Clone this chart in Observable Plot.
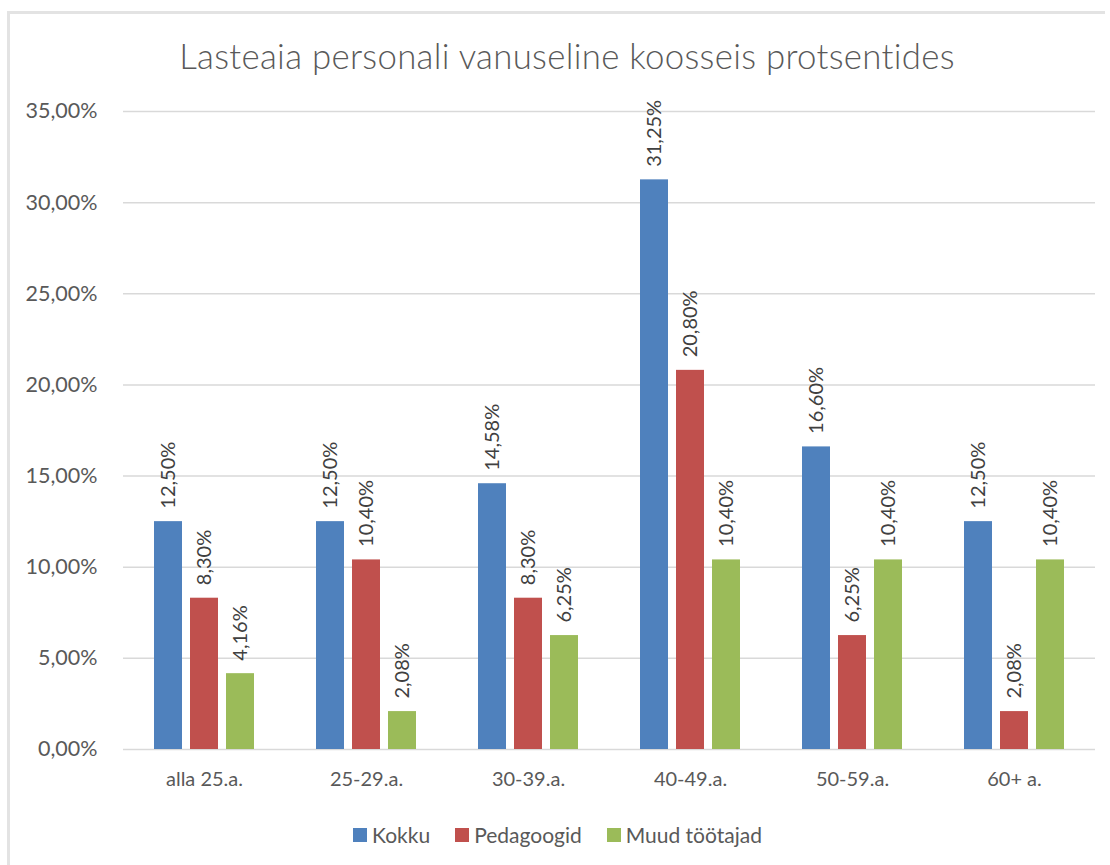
<!DOCTYPE html>
<html>
<head>
<meta charset="utf-8">
<script src="https://cdn.jsdelivr.net/npm/d3@7"></script>
<script src="https://cdn.jsdelivr.net/npm/@observablehq/plot@0.6"></script>
<style>
  html, body { margin: 0; padding: 0; background: #fff; }
  body { width: 1110px; height: 865px; position: relative; overflow: hidden; font-family: Lato, "Open Sans", sans-serif; }
  #frame { position: absolute; left: 7px; top: 11px; width: 1095px; height: 860px; border-top: 3px solid #e3e3e3; border-left: 3px solid #e3e3e3; }
  #title { position: absolute; left: 0; top: 35px; width: 1134px; text-align: center; font-size: 34.8px; font-weight: 300; color: #595959; letter-spacing: 0.3px; }
  #chart { position: absolute; left: 0; top: 0; }
  #legend { position: absolute; left: 0; top: 822px; width: 1140px; display: flex; justify-content: center; }
  #legend .lg-swatches, #legend div { font-family: Lato, sans-serif !important; font-size: 21px !important; color: #595959 !important; justify-content: center; min-height: 0 !important; margin: 0 !important; }
  #legend span { margin-right: 25px !important; }
  #legend svg { margin-right: 5px !important; }
</style>
</head>
<body>
<div id="frame"></div>
<div id="title">Lasteaia personali vanuseline koosseis protsentides</div>
<div id="chart"></div>
<div id="legend"></div>
<script>
const categories = ["alla 25.a.", "25-29.a.", "30-39.a.", "40-49.a.", "50-59.a.", "60+ a."];
const seriesNames = ["Kokku", "Pedagoogid", "Muud töötajad"];
const seriesColors = ["#4F81BD", "#C0504D", "#9BBB59"];
const kokku = [12.50, 12.50, 14.58, 31.25, 16.60, 12.50];
const pedagoogid = [8.30, 10.40, 8.30, 20.80, 6.25, 2.08];
const muud = [4.16, 2.08, 6.25, 10.40, 10.40, 10.40];
const yTicks = [0, 5, 10, 15, 20, 25, 30, 35];

const seriesValues = [kokku, pedagoogid, muud];
const data = [];
categories.forEach((c, i) => {
  seriesNames.forEach((s, j) => {
    data.push({category: c, series: s, value: seriesValues[j][i] / 100});
  });
});

const fmt = v => (v * 100).toFixed(2).replace(".", ",") + "%";

const chart = Plot.plot({
  width: 1110,
  height: 800,
  marginTop: 111,
  marginBottom: 51,
  marginLeft: 120,
  marginRight: 13,
  style: {fontFamily: "Lato, sans-serif", fontSize: "20px", color: "#595959", background: "transparent"},
  fx: {domain: categories, padding: 0, label: null, axis: "bottom", tickSize: 0, tickPadding: 22},
  x: {domain: seriesNames, paddingInner: 0.222, paddingOuter: 0.85, axis: null},
  y: {domain: [0, 0.35], ticks: yTicks.map(t => t / 100), tickFormat: fmt, label: null, tickSize: 0, tickPadding: 26},
  color: {domain: seriesNames, range: seriesColors},
  marks: [
    Plot.gridY(yTicks.map(t => t / 100), {stroke: "#d9d9d9", strokeOpacity: 1, strokeWidth: 1.5}),
    Plot.axisY({ticks: yTicks.map(t => t / 100), tickFormat: fmt, tickSize: 0, tickPadding: 26, fontSize: 21.5, label: null}),
    Plot.barY(data, {fx: "category", x: "series", y: "value", fill: "series"}),
    Plot.text(data, {fx: "category", x: "series", y: "value", text: d => fmt(d.value), rotate: -90, textAnchor: "start", lineAnchor: "middle", dy: -13, fill: "#404040", fontSize: 20})
  ]
});
document.getElementById("chart").appendChild(chart);

const legend = chart.legend("color", {swatchSize: 14});
document.getElementById("legend").appendChild(legend);
</script>
</body>
</html>
